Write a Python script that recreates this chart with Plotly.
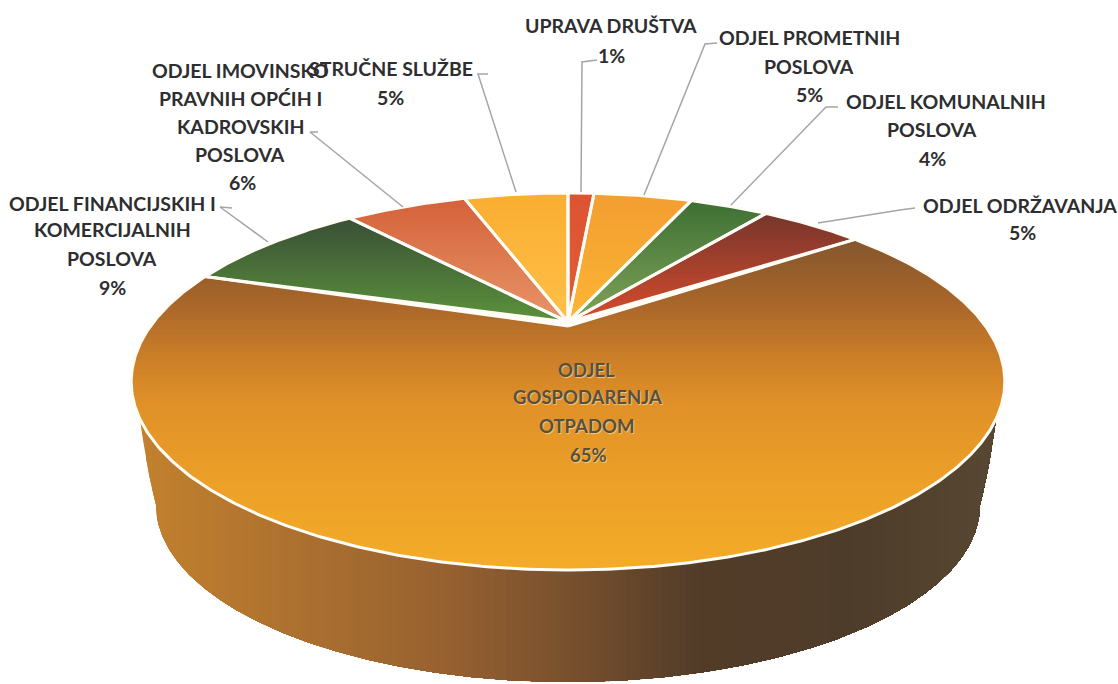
import numpy as np
import plotly.graph_objects as go

# ---- data ----
departments = ["UPRAVA DRUŠTVA", "ODJEL PROMETNIH POSLOVA", "ODJEL KOMUNALNIH POSLOVA",
               "ODJEL ODRŽAVANJA", "ODJEL GOSPODARENJA OTPADOM",
               "ODJEL FINANCIJSKIH I KOMERCIJALNIH POSLOVA",
               "ODJEL IMOVINSKO PRAVNIH OPĆIH I KADROVSKIH POSLOVA", "STRUČNE SLUŽBE"]
shares = [1.3, 4.9, 3.9, 5.0, 64.8, 8.9, 6.0, 5.2]
slice_top_rgb = [(220, 84, 50), (243, 158, 50), (62, 112, 52), (120, 54, 44), (132, 86, 46),
                 (58, 80, 54), (212, 98, 58), (250, 174, 50)]
slice_bottom_rgb = [(226, 92, 52), (252, 182, 52), (130, 165, 90), (218, 76, 44), (244, 172, 40),
                    (92, 148, 60), (232, 150, 105), (255, 192, 72)]
otpad_stops_y = [238, 300, 350, 400, 480, 570]
otpad_stops_rgb = [(132, 86, 46), (168, 102, 42), (200, 124, 40), (224, 144, 40), (236, 160, 40), (244, 172, 40)]

wall_stops_x = [130, 300, 450, 570, 700, 850, 1005]
wall_stops_rgb = [(196, 130, 45), (172, 112, 48), (150, 96, 48), (120, 80, 46), (82, 60, 40), (78, 60, 42), (88, 72, 50)]

label_lines = [("UPRAVA DRUŠTVA", 611, 25), ("1%", 611, 55),
               ("ODJEL PROMETNIH", 809, 37), ("POSLOVA", 809, 66), ("5%", 809, 94),
               ("ODJEL KOMUNALNIH", 946, 101), ("POSLOVA", 932, 129), ("4%", 932, 158),
               ("ODJEL ODRŽAVANJA", 1020, 205), ("5%", 1022, 232),
               ("STRUČNE SLUŽBE", 391, 68), ("5%", 390, 97),
               ("ODJEL IMOVINSKO", 240, 70), ("PRAVNIH OPĆIH I", 240, 98), ("KADROVSKIH", 240, 126),
               ("POSLOVA", 240, 154), ("6%", 242, 182),
               ("ODJEL FINANCIJSKIH I", 112, 203), ("KOMERCIJALNIH", 112, 229), ("POSLOVA", 112, 258), ("9%", 112, 287)]
inner_lines = [("ODJEL", 586, 370), ("GOSPODARENJA", 587, 397), ("OTPADOM", 586, 426), ("65%", 588, 455)]
leaders = [([597, 582, 581], [60, 62, 192]),
           ([717, 705, 644], [43, 44, 195]),
           ([838, 826, 731], [107, 107, 205]),
           ([915, 900, 818], [208, 210, 223]),
           ([488, 478, 516], [74, 74, 192]),
           ([318, 310, 403], [132, 132, 207]),
           ([232, 220, 268], [208, 207, 242])]

# ---- projection of the tilted disc ----
cx, cy, a, b, k = 568.0, 324.0, 171.0, 416.0, 0.305
bot_y, bot_rx, bot_ry = 505.0, 412.0, 177.0


def project(theta):
    """theta: degrees clockwise from the top of the disc."""
    t = np.radians(theta)
    X, Y = np.sin(t), np.cos(t)
    d = 1 + k * Y
    return cx + b * X / d, cy - a * Y / d


def clip_below(px, py, ylim):
    """Keep the part of a polygon with y >= ylim."""
    ox, oy = [], []
    n = len(px)
    for i in range(n):
        x0, y0, x1, y1 = px[i], py[i], px[(i + 1) % n], py[(i + 1) % n]
        if y0 >= ylim:
            ox.append(x0); oy.append(y0)
        if (y0 >= ylim) != (y1 >= ylim):
            s = (ylim - y0) / (y1 - y0)
            ox.append(x0 + s * (x1 - x0)); oy.append(ylim)
    return ox, oy


def rgb(c):
    return "rgb(%d,%d,%d)" % tuple(int(round(v)) for v in c)


def poly(fig, x, y, color):
    fig.add_trace(go.Scatter(x=x, y=y, mode="lines", fill="toself", fillcolor=color,
                             line=dict(width=0, color=color), hoverinfo="skip", showlegend=False))


fig = go.Figure()

# ---- side wall (strips overlap to the right, so no seams) ----
th_ext = np.degrees(np.arccos(-k))
th = np.linspace(th_ext, 360 - th_ext, 361)
rx_, ry_ = project(th)
ord_ = np.argsort(rx_)
rx_, ry_ = rx_[ord_], ry_[ord_]
edge_dx = 428.0
xs = np.arange(cx - edge_dx, cx + edge_dx + 1, 1.0)


def lower(x):
    dx = np.abs(x - cx)
    ell = bot_y + bot_ry * np.sqrt(np.clip(1 - (dx / bot_rx) ** 2, 0, 1))
    rim = np.interp(x, rx_, ry_)
    return np.where(dx > bot_rx, rim + (bot_y - rim) * (edge_dx - dx) / (edge_dx - bot_rx), ell)


top = np.interp(xs, rx_, ry_) - 2
low = lower(xs)
for x0 in np.arange(xs[0], xs[-1], 6.0):
    m = xs >= x0
    col = [np.interp(x0 + 3, wall_stops_x, [c[i] for c in wall_stops_rgb]) for i in range(3)]
    poly(fig, list(xs[m]) + list(xs[m][::-1]), list(top[m]) + list(low[m][::-1]), rgb(col))

# ---- top face, one polygon per slice, from the shares ----
edges = np.cumsum([0] + shares)
edges = edges / edges[-1] * 360
outlines = []
for i in range(len(shares)):
    t = np.linspace(edges[i], edges[i + 1], max(4, int((edges[i + 1] - edges[i]) * 2)))
    ex, ey = project(t)
    apex_y = cy + 2 if i == 4 else cy - 2
    px = [cx] + list(ex)
    py = [apex_y] + list(ey)
    outlines.append((px, py))
    y_min, y_max = min(py), max(py)
    levels = np.arange(y_min, y_max, 5.0 if i == 4 else 4.0)
    for lv in levels:
        qx, qy = clip_below(px, py, lv)
        if len(qx) < 3:
            continue
        if i == 4:
            col = [np.interp(lv, otpad_stops_y, [c[j] for c in otpad_stops_rgb]) for j in range(3)]
        else:
            s = (lv - y_min) / (y_max - y_min)
            col = [slice_top_rgb[i][j] + s * (slice_bottom_rgb[i][j] - slice_top_rgb[i][j]) for j in range(3)]
        poly(fig, qx + qx[:1], qy + qy[:1], rgb(col))

for px, py in outlines:
    fig.add_trace(go.Scatter(x=px + px[:1], y=py + py[:1], mode="lines",
                             line=dict(color="#fffdf6", width=3), hoverinfo="skip", showlegend=False))

# ---- leader lines ----
for lx, ly in leaders:
    fig.add_trace(go.Scatter(x=lx, y=ly, mode="lines", line=dict(color="#a3a6a6", width=1.5),
                             hoverinfo="skip", showlegend=False))

# ---- labels ----
for txt, x, y in label_lines:
    fig.add_annotation(x=x, y=y, text="<b>%s</b>" % txt, showarrow=False, xanchor="center", yanchor="middle",
                       font=dict(family="Lato", size=19.5, color="#2e2e30"))
for txt, x, y in inner_lines:
    fig.add_annotation(x=x, y=y, text="<b>%s</b>" % txt, showarrow=False, xanchor="center", yanchor="middle",
                       font=dict(family="Lato", size=18.5, color="#56503c",
                                 shadow="1px 1px 1px rgba(255,225,160,0.7)"))

fig.update_layout(width=1118, height=684, margin=dict(l=0, r=0, t=0, b=0),
                  paper_bgcolor="white", plot_bgcolor="white", showlegend=False,
                  xaxis=dict(range=[0, 1118], visible=False, fixedrange=True),
                  yaxis=dict(range=[684, 0], visible=False, fixedrange=True))
fig.write_html("out.html", config={"displayModeBar": False},
               post_script="document.body.style.margin='0';document.documentElement.style.overflow='hidden';")
